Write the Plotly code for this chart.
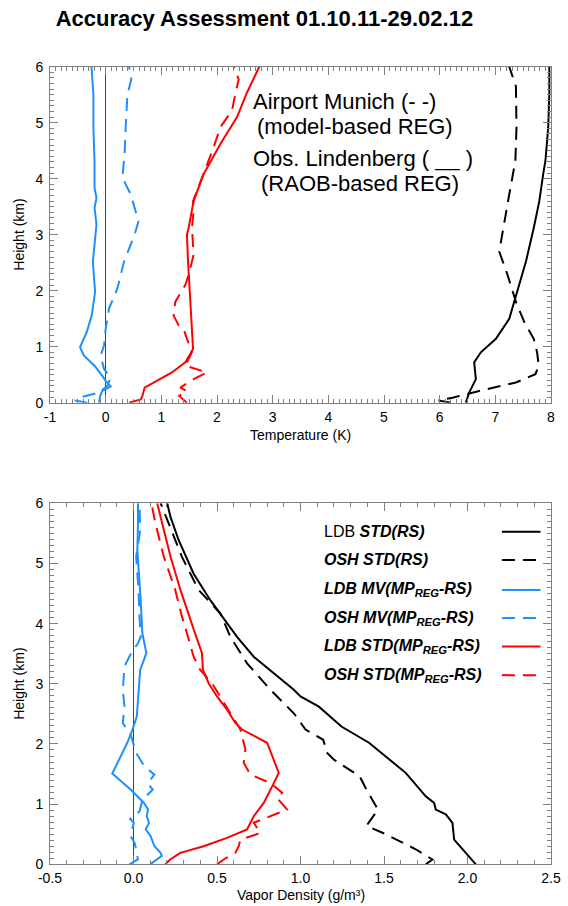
import plotly.graph_objects as go
from plotly.subplots import make_subplots

# ---- temperature profiles (K) vs height (km) ----
t_ldb_mv_h = [0, 0.12, 0.21, 0.29, 0.39, 0.48, 0.66, 0.84, 0.99, 1.26, 1.56, 1.98, 2.52, 3.18, 3.48, 3.66,
              3.84, 4.3, 4.9, 5.5, 6.0]
t_ldb_mv = [-0.12, -0.10, -0.06, 0.09, 0.0, -0.06, -0.20, -0.39, -0.46, -0.34, -0.25, -0.19, -0.23, -0.165,
            -0.20, -0.165, -0.20, -0.20, -0.22, -0.22, -0.255]

t_osh_mv_h = [0, 0.04, 0.09, 0.18, 0.3, 0.45, 0.6, 0.84, 1.02, 1.32, 1.68, 2.04, 2.52, 3.0, 3.24, 3.72, 4.02,
              4.44, 4.92, 5.5, 5.77, 6.0]
t_osh_mv = [-0.33, -0.55, -0.47, -0.12, 0.03, 0.09, -0.03, -0.09, -0.03, 0.0, 0.06, 0.21, 0.33, 0.52, 0.59,
            0.45, 0.30, 0.34, 0.36, 0.39, 0.46, 0.42]

t_ldb_std_h = [0, 0.06, 0.12, 0.27, 0.54, 0.72, 0.96, 1.92, 2.52, 3.0, 3.12, 3.6, 4.08, 4.62, 5.1, 5.52, 6.0]
t_ldb_std = [0.42, 0.63, 0.66, 0.70, 1.19, 1.43, 1.57, 1.51, 1.48, 1.46, 1.49, 1.58, 1.76, 2.06, 2.36, 2.53, 2.76]

t_osh_std_h = [0, 0.12, 0.21, 0.27, 0.42, 0.54, 0.66, 0.9, 1.14, 1.32, 1.38, 1.56, 1.8, 2.1, 2.28, 2.64, 3.12,
               3.42, 3.6, 4.08, 4.56, 4.92, 5.22, 5.52, 5.77, 6.0]
t_osh_std = [1.46, 1.32, 1.46, 1.34, 1.58, 1.82, 1.43, 1.55, 1.46, 1.40, 1.31, 1.22, 1.25, 1.43, 1.49, 1.58,
             1.55, 1.58, 1.57, 1.76, 1.94, 2.06, 2.27, 2.33, 2.39, 2.30]

t_ldb_rs_h = [0, 0.18, 0.42, 0.72, 0.9, 1.14, 1.5, 1.92, 2.52, 3.12, 3.6, 4.08, 4.32, 4.92, 5.52, 6.0]
t_ldb_rs = [6.47, 6.53, 6.65, 6.62, 6.74, 7.01, 7.25, 7.37, 7.55, 7.69, 7.79, 7.86, 7.90, 7.95, 7.97, 7.97]

t_osh_rs_h = [0, 0.04, 0.09, 0.21, 0.36, 0.51, 0.66, 0.9, 1.14, 1.44, 1.8, 2.28, 2.7, 3.24, 3.72, 4.32, 4.92,
              5.65, 6.0]
t_osh_rs = [6.2, 5.98, 6.23, 6.71, 7.37, 7.72, 7.78, 7.75, 7.69, 7.52, 7.37, 7.22, 7.07, 7.16, 7.25, 7.36, 7.38,
            7.37, 7.25]

# ---- vapor density profiles (g/m3) vs height (km) ----
v_ldb_mv_h = [0, 0.14, 0.19, 0.3, 0.47, 0.58, 0.69, 0.8, 0.91, 1.02, 1.24, 1.51, 2.02, 2.24, 2.46, 2.79, 3.23,
              3.51, 3.84, 4.39, 5.22, 5.66, 6.0]
v_ldb_mv = [0.10, 0.17, 0.162, 0.126, 0.102, 0.073, 0.093, 0.079, 0.087, 0.063, -0.016, -0.127, -0.037, -0.006,
            0.02, 0.027, 0.04, 0.077, 0.053, 0.043, 0.023, 0.027, 0.027]

v_osh_mv_h = [0, 0.08, 0.25, 0.36, 0.47, 0.69, 0.75, 0.88, 1.08, 1.24, 1.35, 1.49, 1.63, 1.85, 2.13, 2.35, 2.62,
              2.9, 3.29, 3.51, 3.67, 3.78, 4.12, 4.56, 5.11, 5.55, 6.0]
v_osh_mv = [-0.024, 0.026, 0.016, 0.006, -0.018, 0.002, -0.02, 0.036, 0.055, 0.115, 0.085, 0.125, 0.065, 0.016,
            -0.014, -0.064, -0.054, -0.064, -0.054, -0.014, 0.026, 0.043, 0.036, 0.03, 0.016, 0.04, 0.036]

v_ldb_std_h = [0, 0.08, 0.19, 0.3, 0.44, 0.58, 0.8, 1.02, 1.35, 1.52, 2.02, 2.24, 2.35, 2.57, 2.79, 3.01, 3.23,
               3.51, 3.9, 4.23, 4.56, 5.11, 5.66, 6.0]
v_ldb_std = [0.19, 0.22, 0.28, 0.42, 0.56, 0.68, 0.72, 0.78, 0.84, 0.87, 0.80, 0.65, 0.61, 0.56, 0.50, 0.45,
             0.416, 0.41, 0.361, 0.321, 0.281, 0.222, 0.17, 0.142]

v_osh_std_h = [0, 0.08, 0.19, 0.3, 0.41, 0.52, 0.69, 0.83, 0.91, 1.1, 1.19, 1.35, 1.49, 1.69, 1.91, 2.24, 2.51,
               2.79, 3.01, 3.23, 3.45, 3.84, 4.12, 4.56, 5.11, 5.66, 6.0]
v_osh_std = [0.50, 0.54, 0.61, 0.63, 0.64, 0.76, 0.72, 0.84, 0.92, 0.86, 0.89, 0.82, 0.70, 0.66, 0.67, 0.64,
             0.58, 0.52, 0.47, 0.40, 0.36, 0.32, 0.29, 0.25, 0.182, 0.132, 0.107]

v_ldb_rs_h = [0, 0.25, 0.41, 0.69, 0.83, 0.91, 1.02, 1.13, 1.52, 2.02, 2.29, 2.62, 2.79, 2.9, 3.18, 3.45, 3.78,
              4.12, 4.39, 4.83, 5.39, 5.77, 6.0]
v_ldb_rs = [2.05, 1.97, 1.92, 1.91, 1.87, 1.81, 1.80, 1.75, 1.63, 1.41, 1.245, 1.11, 1.0, 0.96, 0.84, 0.72,
            0.62, 0.53, 0.46, 0.36, 0.27, 0.222, 0.202]

v_osh_rs_h = [0, 0.08, 0.25, 0.52, 0.64, 0.91, 1.24, 1.46, 1.74, 1.85, 2.07, 2.24, 2.51, 2.9, 3.34, 3.78, 4.17,
              4.56, 5.11, 5.66, 6.0]
v_osh_rs = [1.75, 1.79, 1.69, 1.494, 1.395, 1.464, 1.395, 1.355, 1.20, 1.16, 1.136, 1.03, 0.96, 0.82, 0.68,
            0.58, 0.52, 0.39, 0.29, 0.21, 0.163]

# tick labels (plain hyphen minus as in the original)
t_tickvals = [-1, 0, 1, 2, 3, 4, 5, 6, 7, 8]
t_ticktext = ["-1", "0", "1", "2", "3", "4", "5", "6", "7", "8"]
v_tickvals = [-0.5, 0.0, 0.5, 1.0, 1.5, 2.0, 2.5]
v_ticktext = ["-0.5", "0.0", "0.5", "1.0", "1.5", "2.0", "2.5"]
h_tickvals = [0, 1, 2, 3, 4, 5, 6]

legend_labels = [
    "LDB <b><i>STD(RS)</i></b>",
    "<b><i>OSH STD(RS)</i></b>",
    "<b><i>LDB MV(MP<sub>REG</sub>-RS)</i></b>",
    "<b><i>OSH MV(MP<sub>REG</sub>-RS)</i></b>",
    "<b><i>LDB STD(MP<sub>REG</sub>-RS)</i></b>",
    "<b><i>OSH STD(MP<sub>REG</sub>-RS)</i></b>",
]

BLUE = "#1e8fff"
RED = "#ff0000"
BLACK = "#000000"
DASH = "13px,8px"
FONT = "Liberation Sans, Arial, sans-serif"
AXC = "#808080"

# plot areas in pixels (from the top of a 906 px tall page)
H = 906
TOP_Y = [1 - 402.7 / H, 1 - 66.7 / H]
BOT_Y = [1 - 864.3 / H, 1 - 503.3 / H]

fig = make_subplots(rows=2, cols=1)


def add_profile(x, y, color, dashed, row):
    fig.add_trace(
        go.Scatter(
            x=x, y=y, mode='lines',
            line=dict(color=color, width=2, dash=DASH if dashed else 'solid'),
            showlegend=False,
        ),
        row=row, col=1
    )


# top: temperature
add_profile(t_ldb_mv, t_ldb_mv_h, BLUE, False, 1)
add_profile(t_osh_mv, t_osh_mv_h, BLUE, True, 1)
add_profile(t_ldb_std, t_ldb_std_h, RED, False, 1)
add_profile(t_osh_std, t_osh_std_h, RED, True, 1)
add_profile(t_ldb_rs, t_ldb_rs_h, BLACK, False, 1)
add_profile(t_osh_rs, t_osh_rs_h, BLACK, True, 1)

# bottom: vapor density
add_profile(v_ldb_mv, v_ldb_mv_h, BLUE, False, 2)
add_profile(v_osh_mv, v_osh_mv_h, BLUE, True, 2)
add_profile(v_ldb_std, v_ldb_std_h, RED, False, 2)
add_profile(v_osh_std, v_osh_std_h, RED, True, 2)
add_profile(v_ldb_rs, v_ldb_rs_h, BLACK, False, 2)
add_profile(v_osh_rs, v_osh_rs_h, BLACK, True, 2)

axis_common = dict(
    showline=True, linecolor=AXC, linewidth=1, mirror="ticks",
    ticks="inside", ticklen=8, tickcolor=AXC, showgrid=False,
    tickfont=dict(family=FONT, size=14, color="black"), automargin=False,
    minor=dict(dtick=0.1, ticks="inside", ticklen=4, tickcolor=AXC, showgrid=False),
)

fig.update_xaxes(axis_common)
fig.update_yaxes(axis_common)

fig.update_xaxes(range=[-1, 8], tickmode="array", tickvals=t_tickvals, ticktext=t_ticktext, domain=[0, 1],
                 ticklabelstandoff=1, zeroline=True, zerolinecolor="#444444", zerolinewidth=1, row=1, col=1)
fig.update_xaxes(range=[-0.5, 2.5], tickmode="array", tickvals=v_tickvals, ticktext=v_ticktext, domain=[0, 1],
                 ticklabelstandoff=1, zeroline=True, zerolinecolor="#444444", zerolinewidth=1, row=2, col=1)
fig.update_yaxes(range=[0, 6], tickmode="array", tickvals=h_tickvals, domain=TOP_Y, zeroline=False,
                 ticklabelstandoff=3, row=1, col=1)
fig.update_yaxes(range=[0, 6], tickmode="array", tickvals=h_tickvals, domain=BOT_Y, zeroline=False,
                 ticklabelstandoff=3, row=2, col=1)

# text block in the temperature panel
for txt, xx, yy in [("Airport Munich (- -)", 0.401, 0.896), ("(model-based REG)", 0.409, 0.821),
                    ("Obs. Lindenberg ( __ )", 0.401, 0.727), ("(RAOB-based REG)", 0.417, 0.653)]:
    fig.add_annotation(text=txt, xref="x domain", yref="y domain", x=xx, y=yy,
                       xanchor="left", yanchor="middle", showarrow=False,
                       font=dict(family=FONT, size=22, color="black"))

# hand-made legend in the vapor panel (text left, line sample right)
legend_styles = [(BLACK, False), (BLACK, True), (BLUE, False), (BLUE, True), (RED, False), (RED, True)]
legend_rows = [0.921, 0.843, 0.760, 0.682, 0.603, 0.524]
for lab, (col, dashed), yy in zip(legend_labels, legend_styles, legend_rows):
    fig.add_annotation(text=lab, xref="x2 domain", yref="y2 domain", x=0.542, y=yy,
                       xanchor="left", yanchor="middle", showarrow=False,
                       font=dict(family=FONT, size=16, color="black"))
    fig.add_shape(type="line", xref="x2 domain", yref="y2 domain", x0=0.902, x1=0.979, y0=yy, y1=yy,
                  line=dict(color=col, width=2, dash=DASH if dashed else 'solid'))

# axis titles
for txt, xx, yy, ang in [("Temperature (K)", 0.5, 1 - 435 / H, 0),
                         ("Vapor Density (g/m³)", 0.5, 1 - 895 / H, 0),
                         ("Height (km)", -31 / 501, sum(TOP_Y) / 2, -90),
                         ("Height (km)", -31 / 501, sum(BOT_Y) / 2, -90)]:
    fig.add_annotation(text=txt, xref="paper", yref="paper", x=xx, y=yy, textangle=ang,
                       xanchor="center", yanchor="middle", showarrow=False,
                       font=dict(family=FONT, size=14, color="black"))

fig.update_layout(
    width=568, height=906,
    margin=dict(l=50, r=17, t=0, b=0),
    plot_bgcolor="white", paper_bgcolor="white",
    title=dict(text="<b>Accuracy Assessment 01.10.11-29.02.12</b>", xref="container", x=0.4655,
               y=1 - 18 / H, xanchor="center", yanchor="middle",
               font=dict(family=FONT, size=22, color="black")),
)

# the page's default body margin would push the figure 8 px down and right
fig.write_html("out.html", config={"displayModeBar": False},
               post_script="document.body.style.margin = '0px';")
